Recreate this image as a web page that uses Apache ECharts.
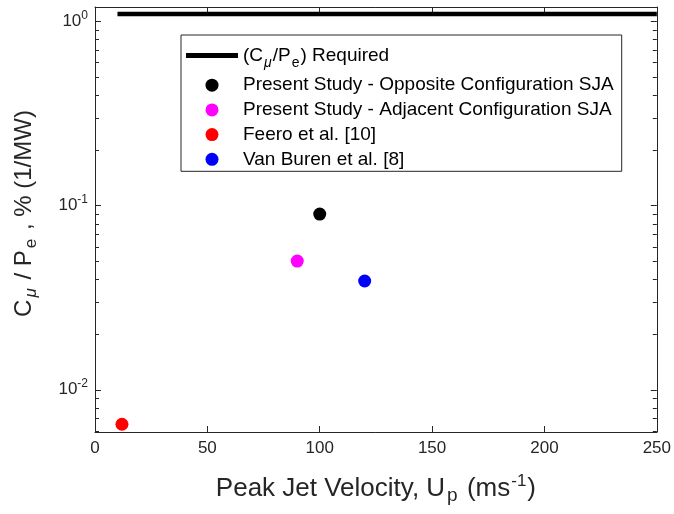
<!DOCTYPE html>
<html><head><meta charset="utf-8">
<script src="https://cdn.jsdelivr.net/npm/echarts@6/dist/echarts.min.js"></script>
<style>html,body{margin:0;padding:0;background:#fff}#c{width:674px;height:514px}</style>
</head><body><div id="c"></div>
<script>
// ---- data ----
const seriesNames = [
  '(C_mu/P_e) Required',
  'Present Study - Opposite Configuration SJA',
  'Present Study - Adjacent Configuration SJA',
  'Feero et al. [10]',
  'Van Buren et al. [8]'
];
const requiredX = [10, 250];
const requiredY = [1.1, 1.1];
const oppositeX = [100];
const oppositeY = [0.09];
const adjacentX = [90];
const adjacentY = [0.05];
const feeroX = [12];
const feeroY = [0.0065];
const vanBurenX = [120];
const vanBurenY = [0.039];
const xTickValues = [0, 50, 100, 150, 200, 250];
const yMajorTicks = [0.01, 0.1, 1];
const yMinorTicks = [0.006, 0.007, 0.008, 0.009,
  0.02, 0.03, 0.04, 0.05, 0.06, 0.07, 0.08, 0.09,
  0.2, 0.3, 0.4, 0.5, 0.6, 0.7, 0.8, 0.9];
const xMin = 0, xMax = 250, yMin = 0.0059, yMax = 1.2;

const pairs = (xs, ys) => xs.map((x, i) => [x, ys[i]]);
const FONT = '"Liberation Sans", Arial, Helvetica, sans-serif';
const AX = '#262626';

const chart = echarts.init(document.getElementById('c'), null, {renderer: 'canvas'});

const baseX = {
  type: 'value', min: xMin, max: xMax, interval: 50,
  splitLine: {show: false},
  axisLine: {show: true, onZero: false, lineStyle: {color: AX, width: 1}},
  axisTick: {show: true, inside: true, length: 6, lineStyle: {color: AX}},
};
const baseY = {
  type: 'log', logBase: 10, min: yMin, max: yMax,
  splitLine: {show: false},
  axisLine: {show: true, onZero: false, lineStyle: {color: AX, width: 1}},
  axisTick: {show: true, inside: true, length: 6, lineStyle: {color: AX}},
};

const option = {
  animation: false,
  backgroundColor: '#fff',
  grid: {left: 95, right: 15, top: 7, bottom: 82},
  xAxis: [
    Object.assign({}, baseX, {
      position: 'bottom',
      axisLabel: {show: true, color: AX, fontSize: 17, fontFamily: FONT, margin: 8},
      name: '{t|Peak Jet Velocity, U}{sub|p}{t| (ms}{sup|-1}{t|)}',
      nameLocation: 'middle', nameGap: 40,
      nameTextStyle: {
        color: AX, fontFamily: FONT, fontSize: 26,
        rich: {
          t: {fontSize: 26, color: AX, fontFamily: FONT},
          sub: {fontSize: 19, color: AX, fontFamily: FONT, padding: [14, 2, 0, 2]},
          sup: {fontSize: 17, color: AX, fontFamily: FONT, padding: [0, 1, 14, 1]}
        }
      }
    }),
    Object.assign({}, baseX, {position: 'top', axisLabel: {show: false}})
  ],
  yAxis: [
    Object.assign({}, baseY, {
      position: 'left',
      axisLabel: {
        show: true, margin: 7, showMinLabel: false, showMaxLabel: false,
        formatter: v => {
          const e = Math.round(Math.log10(v));
          if (Math.abs(Math.log10(v) - e) > 1e-6) return '';
          return '{b|10}{s|' + e + '}';
        },
        rich: {
          b: {fontSize: 17, color: AX, fontFamily: FONT},
          s: {fontSize: 12, color: AX, fontFamily: FONT, padding: [0, 0, 12, 0]}
        }
      },
      name: '{t|C}{mu|μ}{t| / P}{sub|e}{t| , % (1/MW)}',
      nameLocation: 'middle', nameGap: 55, nameRotate: 90,
      nameTextStyle: {
        color: AX, fontFamily: FONT, fontSize: 24,
        padding: [0, 0, 0, 12],
        rich: {
          t: {fontSize: 24, color: AX, fontFamily: FONT},
          mu: {fontSize: 17, color: AX, fontFamily: FONT, fontStyle: 'italic', padding: [14, 2, 0, 2]},
          sub: {fontSize: 17, color: AX, fontFamily: FONT, padding: [14, 2, 0, 2]}
        }
      }
    }),
    Object.assign({}, baseY, {position: 'right', axisLabel: {show: false}})
  ],
  legend: {
    orient: 'vertical', left: 181, top: 35,
    data: [
      {name: seriesNames[0], icon: 'path://M0,0H52V5H0Z', itemStyle: {color: '#000', borderWidth: 0}},
      {name: seriesNames[1], icon: 'circle'},
      {name: seriesNames[2], icon: 'circle'},
      {name: seriesNames[3], icon: 'circle'},
      {name: seriesNames[4], icon: 'circle'}
    ],
    backgroundColor: '#fff', borderColor: AX, borderWidth: 1,
    padding: [11, 8, 2.5, 5],
    itemWidth: 52, itemHeight: 13, itemGap: 5.7, itemTextGap: 5,
    selectedMode: false,
    formatter: name => {
      if (name === seriesNames[0]) return '{tf|(C}{mu|μ}{tf|/P}{sub|e}{tf|) Required}';
      return '{t|' + name + '}';
    },
    textStyle: {
      color: '#000', fontFamily: FONT, fontSize: 19,
      rich: {
        t: {fontSize: 19, lineHeight: 22, color: '#000', fontFamily: FONT},
        tf: {fontSize: 19, lineHeight: 28, color: '#000', fontFamily: FONT},
        mu: {fontSize: 14, color: '#000', fontFamily: FONT, fontStyle: 'italic', padding: [15, 1, 0, 1]},
        sub: {fontSize: 14, color: '#000', fontFamily: FONT, padding: [15, 1, 0, 1]}
      }
    }
  },
  series: [
    {
      name: seriesNames[0], type: 'line', data: pairs(requiredX, requiredY),
      symbol: 'none', lineStyle: {color: '#000', width: 4.5}, itemStyle: {color: '#000'},
      xAxisIndex: 0, yAxisIndex: 0, z: 3
    },
    {name: seriesNames[1], type: 'scatter', data: pairs(oppositeX, oppositeY), symbol: 'circle', symbolSize: 13, itemStyle: {color: '#000000', opacity: 1}},
    {name: seriesNames[2], type: 'scatter', data: pairs(adjacentX, adjacentY), symbol: 'circle', symbolSize: 13, itemStyle: {color: '#ff00ff', opacity: 1}},
    {name: seriesNames[3], type: 'scatter', data: pairs(feeroX, feeroY), symbol: 'circle', symbolSize: 13, itemStyle: {color: '#ff0000', opacity: 1}},
    {name: seriesNames[4], type: 'scatter', data: pairs(vanBurenX, vanBurenY), symbol: 'circle', symbolSize: 13, itemStyle: {color: '#0000ff', opacity: 1}},
    {
      name: 'minorTicks', type: 'custom', silent: true, clip: false, z: 1,
      data: yMinorTicks.map(v => [xMin, v]),
      encode: {x: 0, y: 1},
      renderItem: (params, api) => {
        const v = api.value(1);
        const pl = api.coord([xMin, v]);
        const pr = api.coord([xMax, v]);
        const y = Math.round(pl[1]) + 0.5;
        return {
          type: 'group',
          children: [
            {type: 'line', shape: {x1: pl[0], y1: y, x2: pl[0] + 4, y2: y}, style: {stroke: AX, lineWidth: 1}},
            {type: 'line', shape: {x1: pr[0] - 4, y1: y, x2: pr[0], y2: y}, style: {stroke: AX, lineWidth: 1}}
          ]
        };
      }
    }
  ]
};
chart.setOption(option);
</script>
</body></html>
